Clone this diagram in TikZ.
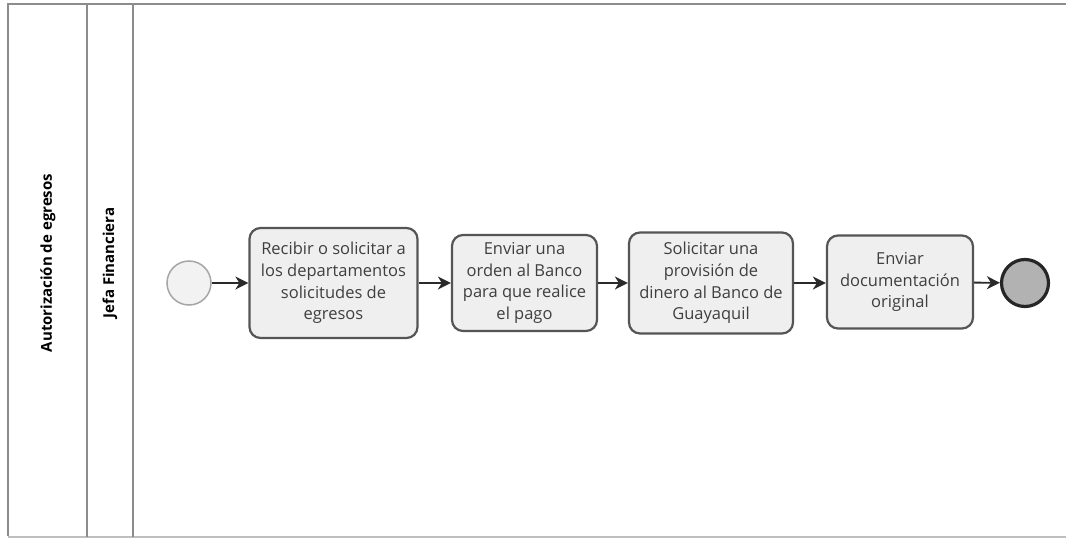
\documentclass[tikz,border=0pt]{standalone}
\usepackage{fontspec}
\setmainfont{Open Sans}
\usetikzlibrary{arrows.meta}
\definecolor{lanegray}{HTML}{8C8C8C}
\definecolor{boxedge}{HTML}{555555}
\definecolor{boxfill}{HTML}{EFEFEF}
\definecolor{boxtext}{HTML}{3F3F3F}
\definecolor{flowline}{HTML}{2A2A2A}
\begin{document}
\begin{tikzpicture}[x=1pt,y=-1pt,
  task/.style={draw=boxedge,line width=2.2pt,fill=boxfill,rounded corners=11pt,
    text=boxtext,align=center,inner sep=0pt,
    font=\fontsize{16.5}{21.7}\selectfont},
  lanelabel/.style={rotate=90,font=\bfseries\fontsize{15}{18}\selectfont,text=black},
  flow/.style={draw=flowline,line width=1.8pt,-{Stealth[length=13pt,width=13pt,inset=4pt]}}]
\useasboundingbox (0,0) rectangle (1066,538);
\fill[white] (0,0) rectangle (1066,538);
% pool and lane frame
\draw[lanegray,line width=1.5pt] (1066,4) -- (8,4) -- (8,536);
\draw[lightgray,line width=1.2pt] (8,537) -- (1066,537);
\draw[lanegray,line width=1.5pt] (87,4) -- (87,537);
\draw[lanegray,line width=1.5pt] (133,4) -- (133,537);
\node[lanelabel] (pool) at (48,263) {Autorización de egresos};
\node[lanelabel] (lane) at (110,263) {Jefa Financiera};
% events
\node[circle,draw=gray!70,line width=1.5pt,fill=gray!10,minimum size=44pt,inner sep=0pt] (start) at (189,283) {};
\node[circle,draw=black!85,line width=3.2pt,fill=gray!60,minimum size=47pt,inner sep=0pt] (end) at (1025,283) {};
% tasks
\node[task,minimum width=168pt,minimum height=110pt] (t1) at (333.5,283)
  {Recibir o solicitar a\\los departamentos\\solicitudes de\\egresos};
\node[task,minimum width=145pt,minimum height=96pt] (t2) at (524.5,283)
  {Enviar una\\orden al Banco\\para que realice\\el pago};
\node[task,minimum width=164pt,minimum height=101pt] (t3) at (711,283)
  {Solicitar una\\provisión de\\dinero al Banco de\\Guayaquil};
\node[task,minimum width=146pt,minimum height=93pt] (t4) at (900,282)
  {Enviar\\documentación\\original};
% sequence flows
\draw[flow] (start) -- (t1);
\draw[flow] (t1) -- (t2);
\draw[flow] (t2) -- (t3);
\draw[flow] (t3.east) -- (t4.west |- t3.east);
\draw[flow] (t4) -- (end);
\end{tikzpicture}
\end{document}
